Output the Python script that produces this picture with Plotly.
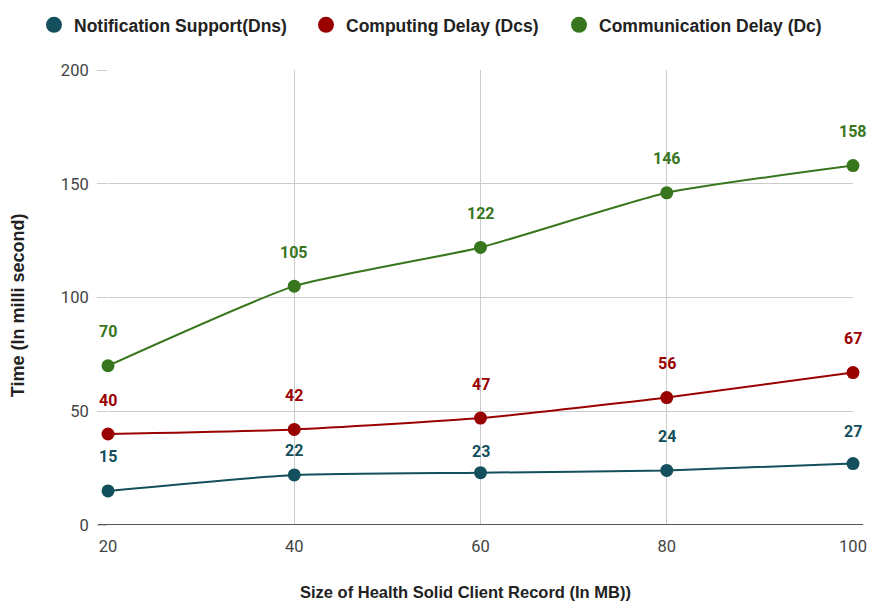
import plotly.graph_objects as go

sizes = [20, 40, 60, 80, 100]
notification_support = [15, 22, 23, 24, 27]
computing_delay = [40, 42, 47, 56, 67]
communication_delay = [70, 105, 122, 146, 158]

series = [
    ("Notification Support(Dns)", notification_support, "#134f5c"),
    ("Computing Delay (Dcs)", computing_delay, "#990000"),
    ("Communication Delay (Dc)", communication_delay, "#38761d"),
]

# left edge (container fraction) of each one-entry legend
legend_left = [34 / 871, 306 / 871, 559 / 871]

# pixel offset of value labels above their points; a few labels sit lower
# so they stay clear of the line above them
label_offset = 34
label_offset_override = {("Notification Support(Dns)", 40): 24,
                         ("Notification Support(Dns)", 60): 21,
                         ("Notification Support(Dns)", 100): 32}

title_font = "Arial, Liberation Sans"

fig = go.Figure()
annotations = []
legends = {}
for i, (name, values, color) in enumerate(series):
    legend_id = "legend" if i == 0 else f"legend{i + 1}"
    fig.add_trace(go.Scatter(
        x=sizes, y=values, mode="lines+markers", name=name,
        line=dict(color=color, width=2, shape="spline", smoothing=0.5),
        marker=dict(color=color, size=13),
        showlegend=False, cliponaxis=False, hoverinfo="x+y",
    ))
    # legend entry drawn as a plain circle
    fig.add_trace(go.Scatter(
        x=[None], y=[None], mode="markers", name=name,
        marker=dict(color=color, size=17), showlegend=True, legend=legend_id,
    ))
    legends[legend_id] = dict(
        orientation="h", x=legend_left[i], xanchor="left", xref="container",
        y=1.099, yanchor="middle",
        font=dict(family=title_font, size=17.5, color="#222", weight="bold"),
        itemsizing="trace", itemwidth=30, bgcolor="rgba(0,0,0,0)",
    )
    for xv, yv in zip(sizes, values):
        annotations.append(dict(
            x=xv, y=yv, text=str(yv), showarrow=False,
            yshift=label_offset_override.get((name, xv), label_offset),
            font=dict(family="Roboto", size=16, color=color, weight="bold"),
        ))

# axis titles
annotations.append(dict(
    text="Size of Health Solid Client Record (In MB))", xref="paper", yref="paper",
    x=0.4805, y=0, yshift=-67, showarrow=False, xanchor="center", yanchor="middle",
    font=dict(family=title_font, size=16.5, color="#222", weight="bold"),
))
annotations.append(dict(
    text="Time (In milli second)", xref="paper", yref="paper", textangle=-90,
    x=0, xshift=-90, y=0.483, showarrow=False, xanchor="center", yanchor="middle",
    font=dict(family=title_font, size=18, color="#222", weight="bold"),
))

# baseline at y = 0, running a little past both ends of the plot area
fig.add_shape(type="line", xref="paper", yref="y", x0=-10 / 745, x1=1 + 10 / 745,
              y0=0, y1=0, line=dict(color="#555555", width=2), layer="above")

fig.update_layout(
    width=871, height=602,
    margin=dict(l=108, r=18, t=70, b=77, autoexpand=False),
    paper_bgcolor="white", plot_bgcolor="white",
    annotations=annotations,
    **legends,
    xaxis=dict(
        range=[20, 100], tickvals=sizes, showgrid=True, gridcolor="#cccccc",
        zeroline=False, showline=False, automargin=False,
        tickfont=dict(family="Roboto", size=16.5, color="#444"),
        ticks="", ticklabelstandoff=9,
    ),
    yaxis=dict(
        range=[0, 200], tickvals=[0, 50, 100, 150, 200], showgrid=True, gridcolor="#cccccc",
        zeroline=False, automargin=False,
        ticks="outside", ticklen=10, tickcolor="#cccccc",
        tickfont=dict(family="Roboto", size=16.5, color="#444"), ticklabelstandoff=5,
    ),
)

fig.write_html("out.html")
